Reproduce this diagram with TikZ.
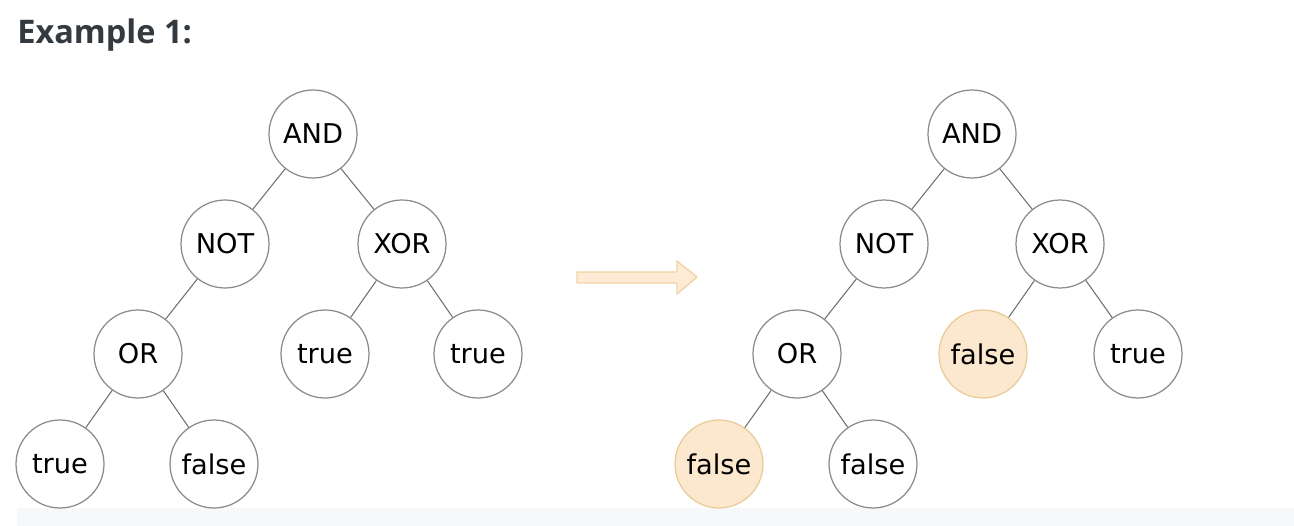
\documentclass[tikz,border=0pt]{standalone}
\usepackage{fontspec}
\newfontfamily\nodefont{DejaVu Sans}
\newfontfamily\titlefont{Open Sans}
\definecolor{titlegray}{HTML}{343A40}
\definecolor{circlegray}{HTML}{8A8A8A}
\definecolor{edgegray}{HTML}{6E6E6E}
\definecolor{hlfill}{HTML}{FBE8CF}
\definecolor{hldraw}{HTML}{EACB98}
\definecolor{arrowfill}{HTML}{FDEBD5}
\definecolor{arrowdraw}{HTML}{F0D3A6}
\definecolor{stripgray}{HTML}{F7F8FA}

\begin{document}
\begin{tikzpicture}[x=0.02cm, y=-0.02cm,
    opnode/.style={circle, draw=circlegray, line width=0.7pt, fill=white,
      minimum size=1.76cm, inner sep=0pt, font=\nodefont\fontsize{15.5}{18}\selectfont},
    hlnode/.style={opnode, draw=hldraw, fill=hlfill},
    edge/.style={draw=edgegray, line width=0.6pt}]
    \useasboundingbox (0,0) rectangle (1294,526);
    \fill[stripgray] (17,508) rectangle (1294,526);
    \node[anchor=base west, inner sep=0pt, text=titlegray,
      font=\titlefont\bfseries\fontsize{18.5}{22}\selectfont] (title) at (17,44) {Example 1:};

    \node[opnode] (land) at (313,134) {AND};
    \node[opnode] (lnot) at (225,244) {NOT};
    \node[opnode] (lxor) at (402,244) {XOR};
    \node[opnode] (lor) at (138,354) {OR};
    \node[opnode] (lxa) at (325,354) {true};
    \node[opnode] (lxb) at (478,354) {true};
    \node[opnode] (lora) at (60,464) {true};
    \node[opnode] (lorb) at (214,464) {false};
    \draw[edge] (land) -- (lnot) (land) -- (lxor) (lnot) -- (lor)
      (lxor) -- (lxa) (lxor) -- (lxb) (lor) -- (lora) (lor) -- (lorb);

    \draw[fill=arrowfill, draw=arrowdraw, line width=0.8pt, line join=round]
      (577,272) -- (677,272) -- (677,261) -- (697,277) -- (677,294)
      -- (677,283) -- (577,283) -- cycle;

    \node[opnode] (rand) at (972,134) {AND};
    \node[opnode] (rnot) at (884,244) {NOT};
    \node[opnode] (rxor) at (1060,244) {XOR};
    \node[opnode] (ror) at (797,354) {OR};
    \node[hlnode] (rxa) at (983,354) {false};
    \node[opnode] (rxb) at (1138,354) {true};
    \node[hlnode] (rora) at (719,464) {false};
    \node[opnode] (rorb) at (873,464) {false};
    \draw[edge] (rand) -- (rnot) (rand) -- (rxor) (rnot) -- (ror)
      (rxor) -- (rxa) (rxor) -- (rxb) (ror) -- (rora) (ror) -- (rorb);
\end{tikzpicture}
\end{document}
